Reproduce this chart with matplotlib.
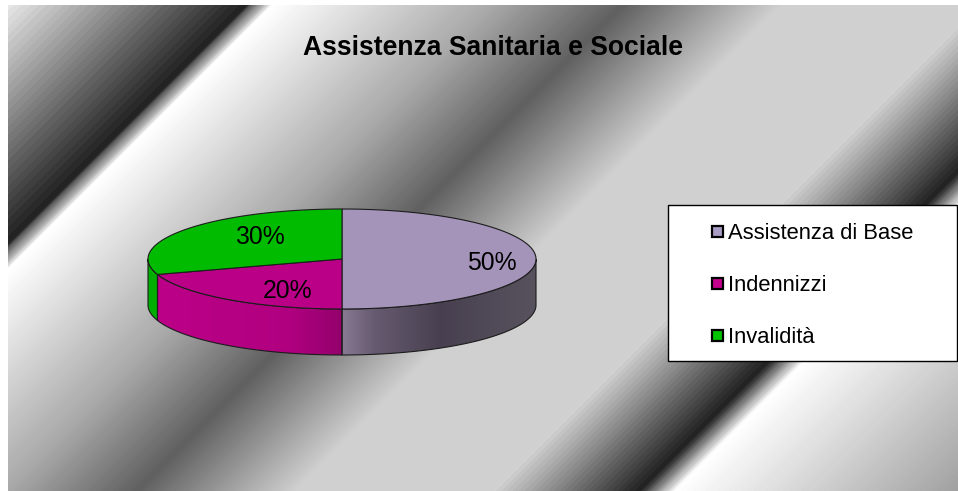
import numpy as np
import matplotlib
matplotlib.use("Agg")
import matplotlib.pyplot as plt
from matplotlib.patches import Polygon, Rectangle

plt.rcParams["font.family"] = ["Liberation Sans", "DejaVu Sans"]

# chart data
TITLE = "Assistenza Sanitaria e Sociale"
categories = ["Assistenza di Base", "Indennizzi", "Invalidità"]
values = [50, 20, 30]
labels = ["50%", "20%", "30%"]

# layout, in pixels of the 958x491 picture
W, H = 958, 491
CX, CY, RX, RY, DEPTH = 342, 259, 194, 50, 46
label_pos = [(492, 270), (288, 298), (260, 244)]
legend_y = [239, 291, 343]

top_colors = ["#a594b9", "#bb0088", "#00bb00"]
legend_colors = ["#a99cc4", "#c4008c", "#00c400"]

# side shading: x stops and RGB at each stop, one per slice
side_x = [[342, 375, 440, 536], [157, 290, 342], [148, 160]]
side_rgb = [
    [(0x86, 0x79, 0x92), (0x66, 0x5a, 0x70), (0x48, 0x40, 0x50), (0x58, 0x52, 0x5e)],
    [(0xbc, 0x00, 0x88), (0xb0, 0x00, 0x80), (0x94, 0x00, 0x6c)],
    [(0x00, 0xae, 0x00), (0x00, 0xae, 0x00)],
]

# background band profile against x + y
bg_s = [0, 13, 252, 255, 259, 263, 268, 272, 277, 499, 628, 787, 985, 1131,
        1138, 1146, 1153, 1160, 1166, 1449, 1500]
bg_v = [240, 232, 32, 80, 112, 144, 176, 208, 255, 168, 96, 208, 208, 32,
        80, 128, 176, 216, 255, 160, 150]
coarse_bands = [(0, 277), (985, 1166)]  # these ranges show wider visible steps


def ellipse_xy(theta):
    # theta in degrees, clockwise from twelve o'clock
    t = np.radians(theta)
    return CX + RX * np.sin(t), CY - RY * np.cos(t)


def draw_background(ax):
    xx, yy = np.meshgrid(np.arange(8, W) + 0.5, np.arange(5, H) + 0.5)
    s = xx + yy
    v = np.interp(s, bg_s, bg_v)
    coarse = np.zeros_like(s, dtype=bool)
    for lo, hi in coarse_bands:
        coarse |= (s >= lo) & (s < hi)
    v = np.where(coarse, np.round(v / 7) * 7, np.round(v / 2) * 2) / 255
    ax.imshow(np.clip(v, 0, 1), cmap="gray", vmin=0, vmax=1, extent=(8, W, H, 5),
              interpolation="nearest", aspect="auto", zorder=0)


def draw_pie(ax):
    edges = np.cumsum([0] + values) / sum(values) * 360

    # rim first, only the part facing the viewer
    for i in range(len(values)):
        a0, a1 = max(edges[i], 90), min(edges[i + 1], 270)
        if a1 <= a0:
            continue
        th = np.linspace(a0, a1, 120)
        x, y = ellipse_xy(th)
        pts = np.r_[np.c_[x, y], np.c_[x[::-1], y[::-1] + DEPTH]]
        poly = Polygon(pts, closed=True, fc="none", ec="#1c1c1c", lw=0.8, zorder=3)
        ax.add_patch(poly)

        xs = np.arange(x.min() - 1, x.max() + 1, 1.0)
        grad = np.stack([np.interp(xs, side_x[i], [c[k] for c in side_rgb[i]])
                         for k in range(3)], axis=-1)[None, :, :] / 255
        im = ax.imshow(grad, extent=(xs[0], xs[-1], CY + RY + DEPTH + 2, CY - 2),
                       aspect="auto", interpolation="bilinear", zorder=2)
        clip = Polygon(pts, closed=True, transform=ax.transData)
        im.set_clip_path(clip)

    # top face
    for i in range(len(values)):
        th = np.linspace(edges[i], edges[i + 1], 200)
        x, y = ellipse_xy(th)
        pts = np.r_[[[CX, CY]], np.c_[x, y]]
        ax.add_patch(Polygon(pts, closed=True, fc=top_colors[i], ec="#1c1c1c",
                             lw=0.8, zorder=4))

    for text, (x, y) in zip(labels, label_pos):
        ax.text(x, y, text, fontsize=17.8, ha="center", va="baseline", color="black", zorder=6)


def draw_legend(ax):
    ax.add_patch(Rectangle((668, 205), 289, 156, fc="white", ec="black", lw=1.0, zorder=5))
    for name, col, y in zip(categories, legend_colors, legend_y):
        ax.add_patch(Rectangle((712, y - 13), 11, 11, fc=col, ec="black", lw=1.6, zorder=6))
        ax.text(728, y, name, fontsize=15.8, ha="left", va="baseline", color="black", zorder=6)


def main():
    fig = plt.figure(figsize=(W / 100, H / 100), dpi=100, facecolor="white")
    ax = fig.add_axes([0, 0, 1, 1])

    draw_background(ax)
    draw_pie(ax)
    draw_legend(ax)
    ax.text(493, 55, TITLE, fontsize=19.1, fontweight="bold", ha="center",
            va="baseline", color="black", zorder=6)

    ax.set_xlim(0, W)
    ax.set_ylim(H, 0)
    ax.axis("off")
    fig.savefig("out.png", dpi=100, facecolor="white")


if __name__ == "__main__":
    main()
